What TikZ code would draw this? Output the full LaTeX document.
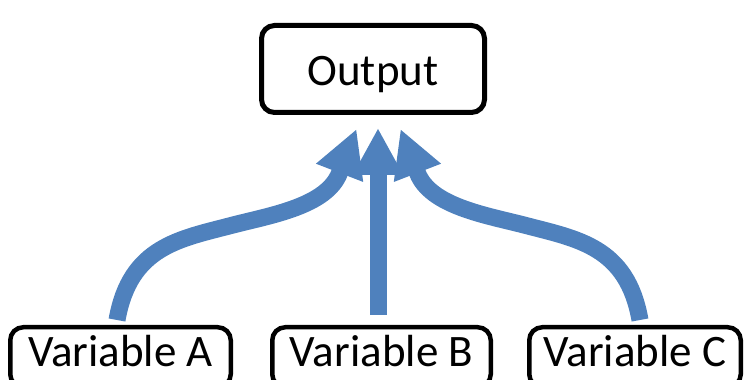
\documentclass[tikz,border=0pt]{standalone}
\usepackage{fontspec}
\setmainfont{Carlito}
\usetikzlibrary{arrows.meta,calc}
\definecolor{flowblue}{RGB}{79,129,189}
\begin{document}
\begin{tikzpicture}[x=1pt,y=1pt,
  box/.style={draw=black, rounded corners=13pt, inner sep=0pt, fill=white, font=\fontsize{45}{54}\selectfont},
  outbox/.style={box, line width=5pt, minimum width=223pt, minimum height=87pt, text height=34pt, text depth=0pt},
  varbox/.style={box, line width=4.5pt, minimum height=60pt, text height=31pt, text depth=12pt},
  flow/.style={draw=flowblue, line width=17pt, -{Triangle[length=47pt,width=47pt]}}]
\useasboundingbox (0,0) rectangle (747,380);
\clip (0,0) rectangle (747,380);
\node[outbox] (out) at (373,311) {Output};
\node[varbox, minimum width=220.5pt] (vA) at (120.5,22.75) {Variable A};
\node[varbox, minimum width=218.5pt] (vB) at (381.5,22.75) {Variable B};
\node[varbox, minimum width=211.5pt] (vC) at (635,22.75) {Variable C};
% arrow A
\coordinate (sA) at ($(vA.north)+(-3.5,5)$);
\coordinate (tA) at ($(out.south)+(-16.5,-14)$);
\coordinate (eA) at ($(tA)+(-17,-44)$);
\coordinate (mA) at (233,155);
\draw[flow] (sA) .. controls +(13,74) and +(-53,-14) .. (mA) .. controls +(39,10) and +(-13,-33) .. (eA) -- (tA);
% arrow B
\coordinate (sB) at ($(vB.north)+(-3.5,10)$);
\coordinate (tB) at ($(out.south)+(5,-13)$);
\draw[flow] (sB) -- (tB);
% arrow C
\coordinate (sC) at ($(vC.north)+(5,5)$);
\coordinate (tC) at ($(out.south)+(27.5,-14)$);
\coordinate (eC) at ($(tC)+(17,-44)$);
\coordinate (mC) at (524,155);
\draw[flow] (sC) .. controls +(-13,74) and +(53,-14) .. (mC) .. controls +(-39,10) and +(13,-33) .. (eC) -- (tC);
\end{tikzpicture}
\end{document}
